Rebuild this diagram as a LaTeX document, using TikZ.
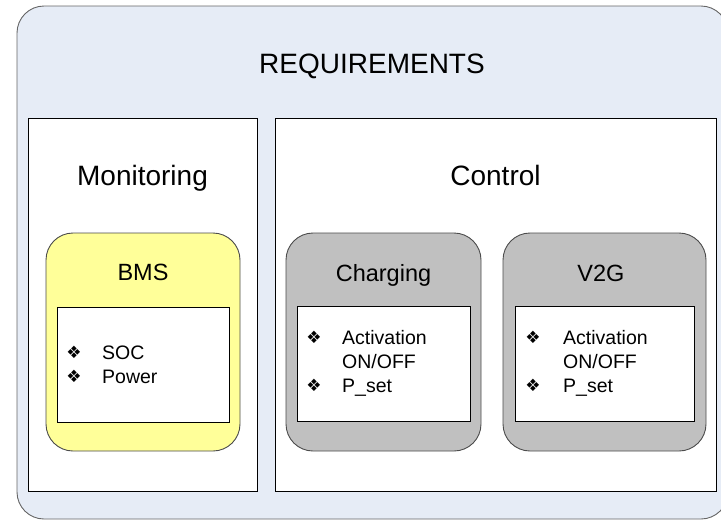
\documentclass[tikz,border=0pt]{standalone}
\usepackage{fontspec}
\setmainfont{Liberation Sans}
\newfontfamily\symfont{DejaVu Sans}
\definecolor{reqbg}{HTML}{E6ECF6}
\definecolor{bmsyellow}{HTML}{FFFF99}
\definecolor{ctlgray}{HTML}{C0C0C0}
\begin{document}
\begin{tikzpicture}[x=1pt,y=-1pt,
  box/.style={rectangle, inner sep=0pt, outer sep=0pt},
  outerframe/.style={box, draw=black!60, line width=0.9pt, fill=reqbg, rounded corners=27pt},
  panel/.style={box, draw=black, line width=0.9pt, fill=white},
  yellowgroup/.style={box, draw=black!70, line width=0.9pt, fill=bmsyellow, rounded corners=27pt},
  graygroup/.style={box, draw=black!70, line width=0.9pt, fill=ctlgray, rounded corners=27pt},
  listbox/.style={box, draw=black, line width=1pt, fill=white},
  bigtitle/.style={anchor=base, inner sep=0pt, font=\fontsize{28}{33}\selectfont},
  subtitle/.style={anchor=base, inner sep=0pt, font=\fontsize{23.5}{28}\selectfont},
  item/.style={anchor=base west, inner sep=0pt, font=\fontsize{19.5}{23}\selectfont},
  bullet/.style={anchor=base, inner sep=0pt, font=\symfont\fontsize{17}{20}\selectfont}
]
\useasboundingbox (0,0) rectangle (721,520);

% outer requirements frame
\node[outerframe, minimum width=711pt, minimum height=513pt] (req) at (372.5,262.5) {};
\node[bigtitle] (reqtitle) at (372,73) {REQUIREMENTS};

% monitoring and control panels
\node[panel, minimum width=229pt, minimum height=373pt] (mon) at (142.5,304.5) {};
\node[panel, minimum width=441pt, minimum height=373pt] (ctl) at (495.5,304.5) {};
\node[bigtitle] (montitle) at (142.5,185) {Monitoring};
\node[bigtitle] (ctltitle) at (495.5,185) {Control};

% BMS group
\node[yellowgroup, minimum width=194pt, minimum height=218pt] (bms) at (143,342) {};
\node[listbox, minimum width=172pt, minimum height=115pt] (bmslist) at (143,364.5) {};
\node[subtitle] (bmstitle) at (143,280) {BMS};
\node[bullet] (bmsb1) at (74,358) {❖};
\node[item] (bmsi1) at (102,359) {SOC};
\node[bullet] (bmsb2) at (74,382) {❖};
\node[item] (bmsi2) at (102,383) {Power};

% Charging group
\node[graygroup, minimum width=195pt, minimum height=218pt] (chg) at (383.5,342) {};
\node[listbox, minimum width=173pt, minimum height=115pt] (chglist) at (383.5,363.5) {};
\node[subtitle] (chgtitle) at (383.5,281) {Charging};
\node[bullet] (chgb1) at (314,343) {❖};
\node[item] (chgi1) at (342,344) {Activation};
\node[item] (chgi2) at (342,368) {ON/OFF};
\node[bullet] (chgb2) at (314,391) {❖};
\node[item] (chgi3) at (342,392) {P\_set};

% V2G group
\node[graygroup, minimum width=203pt, minimum height=218pt] (v2g) at (604.5,342) {};
\node[listbox, minimum width=179pt, minimum height=115pt] (v2glist) at (604.5,363.5) {};
\node[subtitle] (v2gtitle) at (601,281) {V2G};
\node[bullet] (v2gb1) at (533,343) {❖};
\node[item] (v2gi1) at (563,344) {Activation};
\node[item] (v2gi2) at (563,368) {ON/OFF};
\node[bullet] (v2gb2) at (533,391) {❖};
\node[item] (v2gi3) at (563,392) {P\_set};
\end{tikzpicture}
\end{document}
